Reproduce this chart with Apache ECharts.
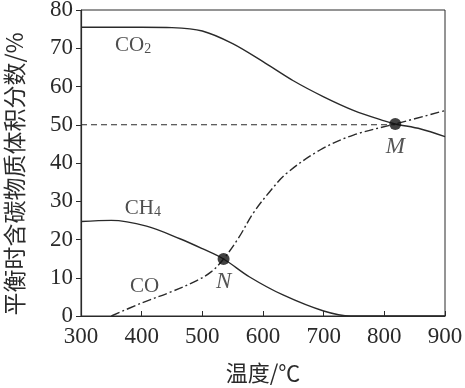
<!DOCTYPE html>
<html><head><meta charset="utf-8">
<script src="https://cdn.jsdelivr.net/npm/echarts@6/dist/echarts.min.js"></script>
<style>html,body{margin:0;padding:0;background:#fff}#c{width:465px;height:388px}</style>
</head><body><div id="c"></div>
<script>
// Data (temperature °C, volume fraction %)
const co2T = [300, 400, 450, 500, 550, 600, 650, 700, 750, 800, 818, 860, 900];
const co2V = [75.5, 75.5, 75.4, 74.5, 71.2, 66.5, 61.5, 57.3, 53.7, 51.0, 50.2, 48.9, 46.9];
const ch4T = [300, 350, 408, 463, 500, 535, 578, 633, 700, 745, 800, 850, 900];
const ch4V = [24.7, 25.0, 23.5, 20.2, 17.6, 14.9, 10.2, 5.5, 1.3, 0, 0, 0, 0];
const coT = [350, 400, 450, 490, 515, 535, 560, 584, 610, 639, 694, 749, 818, 900];
const coV = [0, 3.4, 6.4, 9.2, 11.6, 14.9, 20.5, 26.9, 32.3, 37.3, 43.4, 47.3, 50.2, 53.7];
const refLineT = [300, 818];
const refLineV = [50, 50];
const pointNames = ['N', 'M'];
const pointT = [535, 818];
const pointV = [14.9, 50.2];
const labelTexts = ['CO{s|2}', 'CH{s|4}', 'CO'];
const labelT = [386, 402, 405];
const labelV = [70.8, 28.2, 7.6];
const xTicks = [300, 400, 500, 600, 700, 800, 900];
const yTicks = [0, 10, 20, 30, 40, 50, 60, 70, 80];

const zip = (a, b) => a.map((v, i) => [v, b[i]]);
const ink = '#2a2a2a';
const serif = '"Times New Roman", "Liberation Serif", Times, serif';
const cjk = '"Noto Sans CJK SC", sans-serif';

const chart = echarts.init(document.getElementById('c'));
chart.setOption({
  animation: false,
  grid: { left: 81, right: 20, top: 10, bottom: 72, show: true, borderColor: ink, borderWidth: 1,
    containLabel: false, outerBoundsMode: 'none' },
  xAxis: {
    type: 'value', min: xTicks[0], max: xTicks[xTicks.length - 1], interval: 100,
    name: '温度/℃', nameLocation: 'middle', nameGap: 46,
    nameTextStyle: { fontFamily: cjk, fontSize: 22, color: ink },
    axisLine: { lineStyle: { color: ink, width: 1.2 } },
    axisTick: { inside: true, length: 5, lineStyle: { color: ink } },
    axisLabel: { fontFamily: serif, fontSize: 23, color: ink, margin: 9 },
    splitLine: { show: false }
  },
  yAxis: {
    type: 'value', min: yTicks[0], max: yTicks[yTicks.length - 1], interval: 10,
    name: '平衡时含碳物质体积分数/%', nameLocation: 'middle', nameGap: 55,
    nameTextStyle: { fontFamily: cjk, fontSize: 23, color: ink, padding: [0, 0, 0, -22] },
    axisLine: { lineStyle: { color: ink, width: 1.2 } },
    axisTick: { inside: false, length: 5, lineStyle: { color: ink } },
    axisLabel: { fontFamily: serif, fontSize: 23, color: ink, margin: 8 },
    splitLine: { show: false }
  },
  series: [
    { type: 'line', data: zip(co2T, co2V), smooth: 0.3, symbol: 'none',
      lineStyle: { color: ink, width: 1.4 } },
    { type: 'line', data: zip(ch4T, ch4V), smooth: 0.35, symbol: 'none',
      lineStyle: { color: ink, width: 1.4 } },
    { type: 'line', data: zip(coT, coV), smooth: 0.35, symbol: 'none',
      lineStyle: { color: ink, width: 1.4, type: [9, 3, 2, 3] } },
    { type: 'line', data: zip(refLineT, refLineV), symbol: 'none',
      lineStyle: { color: ink, width: 1.2, type: [6, 4] } },
    { type: 'scatter', data: pointNames.map((n, i) => ({ name: n, value: [pointT[i], pointV[i]] })),
      symbolSize: 12, itemStyle: { color: '#111' }, z: 5,
      label: { show: true, position: 'bottom', distance: 5, formatter: '{b}',
        fontFamily: serif, fontStyle: 'italic', fontSize: 23, color: ink } },
    { type: 'scatter', data: labelTexts.map((t, i) => ({ name: t, value: [labelT[i], labelV[i]] })),
      symbolSize: 0, silent: true,
      label: { show: true, position: 'inside', formatter: '{b}',
        fontFamily: serif, fontSize: 21, color: '#222',
        rich: { s: { fontFamily: serif, fontSize: 14, color: '#222', verticalAlign: 'bottom', padding: [9, 0, 0, 0] } } } }
  ]
});
</script></body></html>
